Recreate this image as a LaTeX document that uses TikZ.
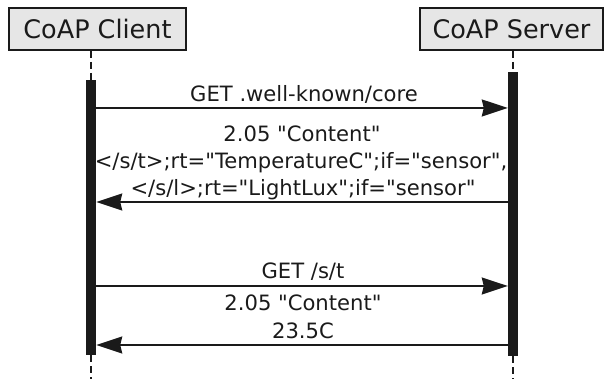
\documentclass[tikz,border=0pt]{standalone}
\usepackage{fontspec}
\setmainfont[Ligatures=TeXOff]{DejaVu Sans}
\usetikzlibrary{arrows.meta}
\definecolor{ink}{HTML}{1A1A1A}
\definecolor{boxfill}{HTML}{E6E6E6}
\begin{document}
\begin{tikzpicture}[x=1pt,y=-1pt,
  actor/.style={draw=ink, line width=2pt, fill=boxfill, minimum height=42pt,
    inner sep=0pt, font=\fontsize{25.5}{30}\selectfont, text=ink},
  lifeline/.style={draw=ink, line width=2pt, dash pattern=on 7pt off 4pt},
  activation/.style={fill=ink, draw=none, minimum width=10pt, inner sep=0pt},
  msg/.style={draw=ink, line width=2pt,
    -{Stealth[length=26pt,width=17pt,inset=2pt]}},
  msglabel/.style={anchor=base, inner sep=0pt,
    font=\fontsize{21.1}{27}\selectfont, text=ink}]
\useasboundingbox (0,0) rectangle (605,379);

% participants
\node[actor, minimum width=177pt] (client) at (97.5,29) {CoAP Client};
\node[actor, minimum width=183pt] (server) at (511.5,29) {CoAP Server};

% activation bars
\node[activation, minimum height=275pt] (cbar) at (91,217.5) {};
\node[activation, minimum height=284pt] (sbar) at (513,214) {};

% lifelines
\coordinate (cend) at (91,379);
\coordinate (send) at (513,379);
\draw[lifeline] (cbar.north |- client.south) -- (cbar.north);
\draw[lifeline] (cbar.south) -- (cend);
\draw[lifeline] (sbar.north |- server.south) -- (sbar.north);
\draw[lifeline] (sbar.south) -- (send);

% discovery request
\coordinate (m1) at (303,108);
\draw[msg] (cbar.east |- m1) -- (sbar.west |- m1);
\node[msglabel] (m1a) at (304,102) {GET .well-known/core};

% discovery response
\coordinate (m2) at (303,202);
\draw[msg] (sbar.west |- m2) -- (cbar.east |- m2);
\node[msglabel] (m2a) at (302,141.5) {2.05 "Content"};
\node[msglabel] (m2b) at (301,168.5) {</s/t>;rt="TemperatureC";if="sensor",};
\node[msglabel] (m2c) at (303,195.5) {</s/l>;rt="LightLux";if="sensor"};

% resource request
\coordinate (m3) at (303,286);
\draw[msg] (cbar.east |- m3) -- (sbar.west |- m3);
\node[msglabel] (m3a) at (303,278.5) {GET /s/t};

% resource response
\coordinate (m4) at (303,345);
\draw[msg] (sbar.west |- m4) -- (cbar.east |- m4);
\node[msglabel] (m4a) at (303,311) {2.05 "Content"};
\node[msglabel] (m4b) at (303,338.5) {23.5C};
\end{tikzpicture}
\end{document}
